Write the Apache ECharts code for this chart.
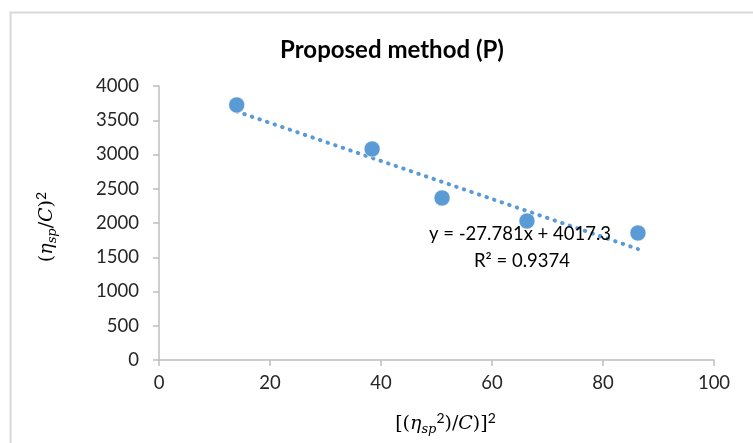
<!DOCTYPE html>
<html><head><meta charset="utf-8">
<script src="https://cdn.jsdelivr.net/npm/echarts@6/dist/echarts.min.js"></script>
<style>html,body{margin:0;padding:0;background:#fff}#c{width:753px;height:443px}</style>
</head><body><div id="c"></div>
<script>
const xValues = [14.0, 38.4, 51.0, 66.3, 86.3];
const yValues = [3723, 3080, 2365, 2029, 1854];
const trendX = [14.0, 86.3];
const trendY = [3628, 1620];
const xTicks = [0, 20, 40, 60, 80, 100];
const yTicks = [0, 500, 1000, 1500, 2000, 2500, 3000, 3500, 4000];
const titleText = 'Proposed method (P)';
const eqText = 'y = -27.781x + 4017.3';
const r2Text = 'R² = 0.9374';

const blue = '#5b9bd5';
const font = 'Lato, "Open Sans", sans-serif';
const serif = '"DejaVu Serif", "Liberation Serif", serif';
const chart = echarts.init(document.getElementById('c'));
const axisCommon = {
  axisLine: {show: true, lineStyle: {color: '#bfbfbf', width: 1.5}},
  axisTick: {show: true, inside: false, length: 6, lineStyle: {color: '#bfbfbf', width: 1.5}},
  splitLine: {show: false}
};
const labelStyle = {fontFamily: font, fontSize: 18.5, color: '#262626', formatter: v => String(v)};
const nameRich = {
  t: {fontFamily: serif, fontSize: 19, color: '#000', lineHeight: 28, verticalAlign: 'middle'},
  sup: {fontFamily: font, fontSize: 14, color: '#000', lineHeight: 28, verticalAlign: 'middle', padding: [0, 0, 12, 0]},
  i: {fontFamily: serif, fontStyle: 'italic', fontSize: 19, color: '#000', lineHeight: 28, verticalAlign: 'middle'},
  sub: {fontFamily: serif, fontStyle: 'italic', fontSize: 13, color: '#000', lineHeight: 28, verticalAlign: 'middle', padding: [12, 0, 0, 0]}
};
chart.setOption({
  animation: false,
  backgroundColor: '#fff',
  title: {text: titleText, left: 387, top: 33, textAlign: 'center',
    textStyle: {fontFamily: font, fontSize: 24, fontWeight: 'bold', color: '#000'}},
  grid: {left: 159, right: 39, top: 86, bottom: 83, containLabel: false, outerBoundsMode: 'none'},
  xAxis: Object.assign({}, axisCommon, {
    type: 'value', min: xTicks[0], max: xTicks[xTicks.length - 1], interval: 20,
    axisLabel: Object.assign({margin: 14}, labelStyle),
    name: '{t|[(}{i|η}{sub|sp}{sup|2}{t|)/}{i|C}{t|)]}{sup|2}',
    nameLocation: 'middle', nameGap: 50,
    nameTextStyle: {rich: nameRich, padding: [0, 0, 0, 18]}
  }),
  yAxis: Object.assign({}, axisCommon, {
    type: 'value', min: yTicks[0], max: yTicks[yTicks.length - 1], interval: 500,
    axisLabel: Object.assign({margin: 20}, labelStyle),
    name: '{t|(}{i|η}{sub|sp}{t|/}{i|C}{t|)}{sup|2}',
    nameLocation: 'middle', nameGap: 98, nameRotate: 90,
    nameTextStyle: {rich: nameRich, padding: [0, 8, 0, 0]}
  }),
  series: [
    {type: 'line', data: trendX.map((x, i) => [x, trendY[i]]), symbol: 'none',
     lineStyle: {color: blue, width: 4, type: [0.5, 7.5], cap: 'round'}, z: 2},
    {type: 'scatter', data: xValues.map((x, i) => [x, yValues[i]]), symbolSize: 16,
     itemStyle: {color: blue, borderColor: '#ffffff', borderWidth: 0.5, opacity: 1}, z: 3}
  ],
  graphic: [
    {type: 'rect', left: 8, top: 10, shape: {width: 800, height: 500}, silent: true,
     style: {fill: 'none', stroke: '#d9d9d9', lineWidth: 2}, z: -1},
    {type: 'text', left: 429, top: 225, style: {text: eqText, font: '18.5px ' + font, fill: '#000'}, z: 10},
    {type: 'text', left: 474, top: 252, style: {text: r2Text, font: '18.5px ' + font, fill: '#000'}, z: 10}
  ]
});
</script></body></html>
